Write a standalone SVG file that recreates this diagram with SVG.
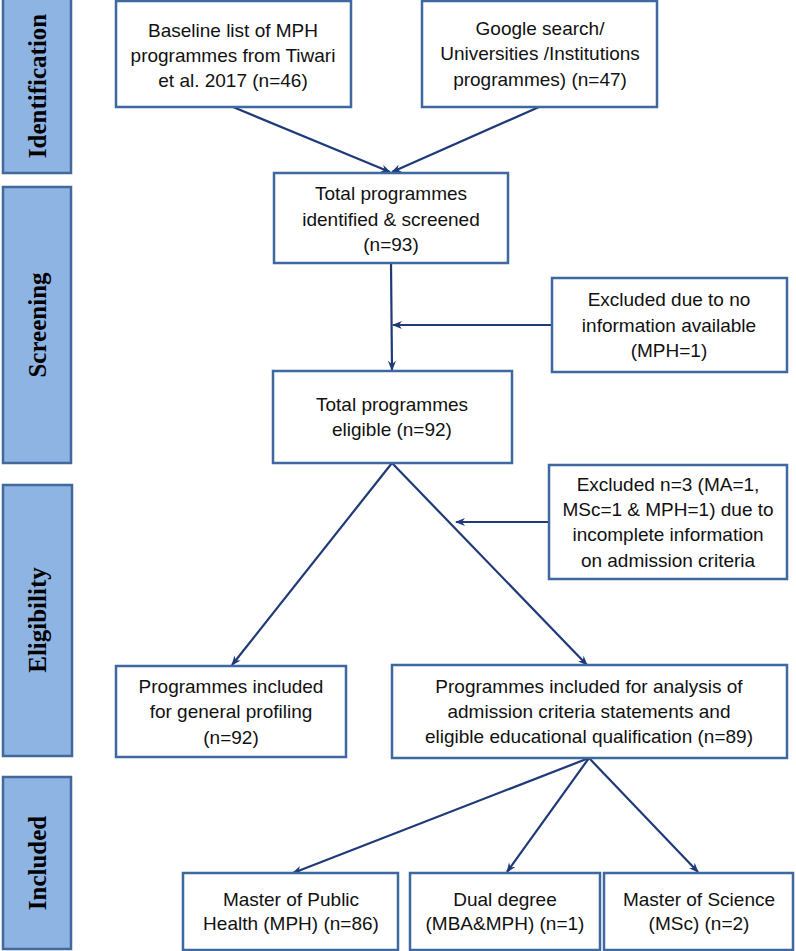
<svg xmlns="http://www.w3.org/2000/svg" width="796" height="951" viewBox="0 0 796 951">
<defs>
<style>
.bar{fill:#8EB4E3;stroke:#41699C;stroke-width:2.5}
.bl{font-family:"Liberation Serif","Times New Roman",serif;font-weight:bold;font-size:25px;fill:#000;text-anchor:middle}
.box{fill:#fff;stroke:#3E68A0;stroke-width:2.5}
.t{font-family:"Liberation Sans",Arial,sans-serif;font-size:19px;fill:#111;text-anchor:middle}
.c{fill:none;stroke:#1F3A78;stroke-width:2.2}
</style>
<marker id="ah" viewBox="0 0 10 8" refX="9" refY="4" markerWidth="10" markerHeight="8" markerUnits="userSpaceOnUse" orient="auto">
<path d="M0,0 L10,4 L0,8 L3,4 z" fill="#1F3A78"/>
</marker>
</defs>
<rect width="796" height="951" fill="#fff"/>

<g id="phase-identification">
<rect class="bar" x="3" y="-2" width="68" height="175"/>
<text class="bl" transform="translate(46,86) rotate(-90)">Identification</text>
</g>
<g id="phase-screening">
<rect class="bar" x="3" y="187" width="68" height="276"/>
<text class="bl" transform="translate(46,325) rotate(-90)">Screening</text>
</g>
<g id="phase-eligibility">
<rect class="bar" x="3" y="485" width="69" height="271"/>
<text class="bl" transform="translate(46,620) rotate(-90)">Eligibility</text>
</g>
<g id="phase-included">
<rect class="bar" x="3" y="777" width="68" height="172"/>
<text class="bl" transform="translate(46,863) rotate(-90)">Included</text>
</g>

<g id="connectors">
<line class="c" x1="233" y1="107" x2="390" y2="172" marker-end="url(#ah)"/>
<line class="c" x1="539" y1="107" x2="392" y2="172" marker-end="url(#ah)"/>
<line class="c" x1="391" y1="263" x2="392" y2="370" marker-end="url(#ah)"/>
<line class="c" x1="552" y1="325" x2="393" y2="325" marker-end="url(#ah)"/>
<line class="c" x1="392" y1="463" x2="232" y2="665" marker-end="url(#ah)"/>
<line class="c" x1="392" y1="463" x2="587" y2="665" marker-end="url(#ah)"/>
<line class="c" x1="549" y1="522" x2="456" y2="522" marker-end="url(#ah)"/>
<line class="c" x1="589" y1="758" x2="293" y2="873" marker-end="url(#ah)"/>
<line class="c" x1="589" y1="758" x2="507" y2="872" marker-end="url(#ah)"/>
<line class="c" x1="589" y1="758" x2="698" y2="872" marker-end="url(#ah)"/>
</g>

<g id="n-baseline">
<rect class="box" x="116" y="1" width="235" height="106"/>
<text class="t" x="233" y="37">Baseline list of MPH</text>
<text class="t" x="233" y="62">programmes from Tiwari</text>
<text class="t" x="233" y="87">et al. 2017 (n=46)</text>
</g>
<g id="n-google">
<rect class="box" x="422" y="1" width="235" height="106"/>
<text class="t" x="540" y="35">Google search/</text>
<text class="t" x="540" y="60">Universities /Institutions</text>
<text class="t" x="540" y="86">programmes) (n=47)</text>
</g>
<g id="n-identified">
<rect class="box" x="274" y="173" width="234" height="90"/>
<text class="t" x="391" y="200">Total programmes</text>
<text class="t" x="391" y="226">identified &amp; screened</text>
<text class="t" x="391" y="251">(n=93)</text>
</g>
<g id="n-excl1">
<rect class="box" x="552" y="278" width="235" height="94"/>
<text class="t" x="669" y="306">Excluded due to no</text>
<text class="t" x="669" y="332">information available</text>
<text class="t" x="669" y="357">(MPH=1)</text>
</g>
<g id="n-eligible">
<rect class="box" x="273" y="371" width="239" height="92"/>
<text class="t" x="392" y="411">Total programmes</text>
<text class="t" x="392" y="436">eligible (n=92)</text>
</g>
<g id="n-excl2">
<rect class="box" x="549" y="465" width="238" height="114"/>
<text class="t" x="668" y="491">Excluded n=3 (MA=1,</text>
<text class="t" x="668" y="516">MSc=1 &amp; MPH=1) due to</text>
<text class="t" x="668" y="541">incomplete information</text>
<text class="t" x="668" y="567">on admission criteria</text>
</g>
<g id="n-profiling">
<rect class="box" x="116" y="666" width="230" height="91"/>
<text class="t" x="231" y="693">Programmes included</text>
<text class="t" x="231" y="718">for general profiling</text>
<text class="t" x="231" y="744">(n=92)</text>
</g>
<g id="n-analysis">
<rect class="box" x="392" y="665" width="395" height="93"/>
<text class="t" x="589" y="693">Programmes included for analysis of</text>
<text class="t" x="589" y="718">admission criteria statements and</text>
<text class="t" x="589" y="743">eligible educational qualification (n=89)</text>
</g>
<g id="n-mph">
<rect class="box" x="183" y="873" width="215" height="77"/>
<text class="t" x="291" y="906">Master of Public</text>
<text class="t" x="291" y="930">Health (MPH) (n=86)</text>
</g>
<g id="n-dual">
<rect class="box" x="410" y="873" width="190" height="77"/>
<text class="t" x="505" y="906">Dual degree</text>
<text class="t" x="505" y="930">(MBA&amp;MPH) (n=1)</text>
</g>
<g id="n-msc">
<rect class="box" x="604" y="873" width="189" height="77"/>
<text class="t" x="699" y="906">Master of Science</text>
<text class="t" x="699" y="930">(MSc) (n=2)</text>
</g>
</svg>
